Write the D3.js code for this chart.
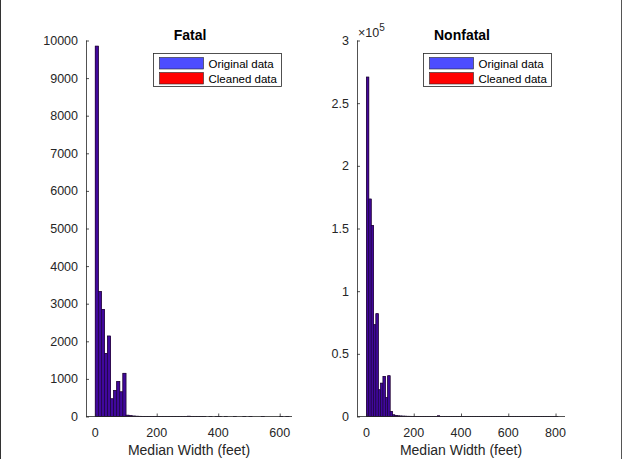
<!DOCTYPE html>
<html>
<head>
<meta charset="utf-8">
<script src="https://cdn.jsdelivr.net/npm/d3@7"></script>
<style>
  html, body { margin: 0; padding: 0; background: #fff; }
  svg { display: block; font-family: "Liberation Sans", Arial, Helvetica, sans-serif; }
</style>
</head>
<body>
<svg id="chart" width="623" height="459"></svg>
<script>
// Histogram counts, bins 10 ft wide starting at 0 ft.
const binWidth = 10;

const fatalOriginal = [
  9850, 3320, 2850, 1680, 2140, 470, 690, 930, 655, 1150,
  35, 20, 12, 8, 6, 5, 4, 3, 3, 2,
  2, 2, 1, 1, 1, 1, 1, 1, 1, 1,
  8, 2, 1, 1, 1, 1, 0, 1, 0, 1,
  2, 0, 1, 0, 0, 1, 0, 0, 1, 0,
  1, 0, 0, 0, 1, 0, 0, 0, 0, 0,
  1, 0, 1
];
const fatalCleaned = [
  9850, 3320, 2850, 1680, 2140, 470, 690, 930, 655, 1150,
  35, 20, 12, 8, 6, 5, 4, 3, 3, 2,
  2, 2, 1, 1, 1, 1, 1, 1, 1, 1,
  8, 2, 1, 1, 1, 1, 0, 1, 0, 1,
  2, 0, 1, 0, 0, 1, 0, 0, 1, 0,
  1, 0, 0, 0, 1, 0, 0, 0, 0, 0,
  1, 0, 1
];

const nonfatalOriginal = [
  270800, 173500, 152400, 73200, 82000, 21300, 26600, 31900, 15000, 32500,
  4000, 1300, 700, 500, 400, 300, 250, 200, 180, 160,
  150, 140, 120, 110, 100, 90, 90, 80, 80, 80,
  500, 120, 80, 70, 60, 60, 50, 50, 40, 40,
  120, 40, 30, 30, 30, 20, 20, 20, 20, 20,
  60, 20, 15, 15, 10, 10, 10, 10, 10, 10,
  30, 10, 10, 5, 5, 5, 5, 5, 5, 5,
  10, 5, 5, 5, 5, 5, 5, 5, 5, 5,
  5
];
const nonfatalCleaned = [
  270800, 173500, 152400, 73200, 82000, 21300, 26600, 31900, 15000, 32500,
  4000, 1300, 700, 500, 400, 300, 250, 200, 180, 160,
  150, 140, 120, 110, 100, 90, 90, 80, 80, 80,
  500, 120, 80, 70, 60, 60, 50, 50, 40, 40,
  120, 40, 30, 30, 30, 20, 20, 20, 20, 20,
  60, 20, 15, 15, 10, 10, 10, 10, 10, 10,
  30, 10, 10, 5, 5, 5, 5, 5, 5, 5,
  10, 5, 5, 5, 5, 5, 5, 5, 5, 5,
  5
];

const fatalXTicks = [0, 200, 400, 600];
const fatalYTicks = [0, 1000, 2000, 3000, 4000, 5000, 6000, 7000, 8000, 9000, 10000];
const nonfatalXTicks = [0, 200, 400, 600, 800];
const nonfatalYTicks = [0, 50000, 100000, 150000, 200000, 250000, 300000];

const seriesNames = ["Original data", "Cleaned data"];
const originalColor = "#4d4dff";
const cleanedColor = "#ff0000";
const overlapColor = "#40089c";
const axisColor = "#262626";

const svg = d3.select("#chart");

// figure frame edges
svg.append("line").attr("x1", 0.5).attr("x2", 0.5).attr("y1", 0).attr("y2", 459)
  .attr("stroke", "#333").attr("stroke-width", 1);
svg.append("line").attr("x1", 621.5).attr("x2", 621.5).attr("y1", 0).attr("y2", 459)
  .attr("stroke", "#555").attr("stroke-width", 1);

function panel(cfg) {
  const x = d3.scaleLinear().domain(cfg.xDomain).range(cfg.xRange);
  const y = d3.scaleLinear().domain(cfg.yDomain).range([416.5, 40.5]);
  const g = svg.append("g");

  // bars: cleaned underneath, original on top
  const layers = [
    { data: cfg.cleaned, fill: cleanedColor },
    { data: cfg.original, fill: overlapColor }
  ];
  layers.forEach(layer => {
    g.append("g").selectAll("rect")
      .data(layer.data.map((v, i) => ({ v, i })).filter(d => d.v > 0))
      .join("rect")
      .attr("x", d => x(d.i * binWidth))
      .attr("width", d => x((d.i + 1) * binWidth) - x(d.i * binWidth))
      .attr("y", d => y(d.v))
      .attr("height", d => y(0) - y(d.v))
      .attr("fill", layer.fill)
      .attr("stroke", "#1a0838")
      .attr("stroke-width", 0.6);
  });

  // y axis (ticks inward)
  const yAxis = d3.axisRight(y).tickValues(cfg.yTicks).tickSize(3).tickFormat("");
  const ya = g.append("g").attr("transform", `translate(${cfg.xRange[0]},0)`).call(yAxis);
  ya.select(".domain").attr("d", `M0.5,40.5V416.5`);
  ya.selectAll("path, line").attr("stroke", axisColor).attr("stroke-width", 0.8);
  g.append("g").selectAll("text").data(cfg.yTicks).join("text")
    .attr("x", cfg.xRange[0] - 8).attr("y", d => y(d) + 4.5)
    .attr("text-anchor", "end").attr("font-size", 12.5).attr("fill", axisColor)
    .text(cfg.yFormat);

  // x axis (ticks inward)
  const xAxis = d3.axisTop(x).tickValues(cfg.xTicks).tickSize(3).tickFormat("");
  const xa = g.append("g").attr("transform", `translate(0,416.5)`).call(xAxis);
  xa.select(".domain").attr("d", `M${cfg.xRange[0]},0H${cfg.xRange[1]}`);
  xa.selectAll("path, line").attr("stroke", axisColor).attr("stroke-width", 0.8);
  g.append("g").selectAll("text").data(cfg.xTicks).join("text")
    .attr("x", d => x(d)).attr("y", 437)
    .attr("text-anchor", "middle").attr("font-size", 12.5).attr("fill", axisColor)
    .text(d => d);

  const cx = (cfg.xRange[0] + cfg.xRange[1]) / 2;
  g.append("text").attr("x", cx).attr("y", 455).attr("text-anchor", "middle")
    .attr("font-size", 14).attr("fill", axisColor).text("Median Width (feet)");
  g.append("text").attr("x", cx + 1).attr("y", 40).attr("text-anchor", "middle")
    .attr("font-size", 14).attr("font-weight", "bold").attr("fill", "#000").text(cfg.title);

  // legend
  const lg = g.append("g").attr("transform", `translate(${cfg.legendX},53.5)`);
  lg.append("rect").attr("width", 128).attr("height", 33)
    .attr("fill", "#fff").attr("stroke", axisColor).attr("stroke-width", 0.8);
  [originalColor, cleanedColor].forEach((c, i) => {
    lg.append("rect").attr("x", 6).attr("y", 4 + i * 15).attr("width", 44).attr("height", 11.5)
      .attr("fill", c).attr("stroke", axisColor).attr("stroke-width", 0.6);
    lg.append("text").attr("x", 55).attr("y", 14 + i * 15)
      .attr("font-size", 11.5).attr("fill", "#000").text(seriesNames[i]);
  });
  return g;
}

panel({
  title: "Fatal",
  original: fatalOriginal, cleaned: fatalCleaned,
  xDomain: [-30, 640], xRange: [86, 292],
  yDomain: [0, 10000],
  xTicks: fatalXTicks, yTicks: fatalYTicks,
  yFormat: d => d,
  legendX: 153.5
});

const nf = panel({
  title: "Nonfatal",
  original: nonfatalOriginal, cleaned: nonfatalCleaned,
  xDomain: [-40, 840], xRange: [357, 565],
  yDomain: [0, 300000],
  xTicks: nonfatalXTicks, yTicks: nonfatalYTicks,
  yFormat: d => d / 1e5,
  legendX: 423.5
});

// exponent multiplier for the nonfatal y axis
const expo = nf.append("text").attr("x", 358).attr("y", 37).attr("font-size", 12.5).attr("fill", axisColor);
expo.append("tspan").text("\u00d710");
expo.append("tspan").attr("dy", -6).attr("font-size", 10).text("5");
</script>
</body>
</html>
